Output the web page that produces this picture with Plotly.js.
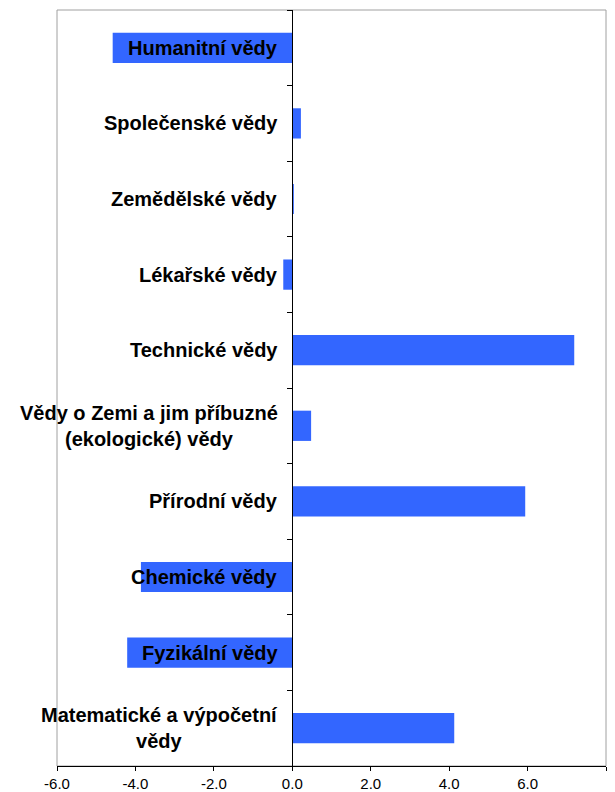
<!DOCTYPE html>
<html>
<head>
<meta charset="utf-8">
<script src="https://cdn.plot.ly/plotly-3.0.1.min.js"></script>
<style>
  body { margin: 0; background: #fff; }
  #chart { width: 615px; height: 792px; }
</style>
</head>
<body>
<div id="chart"></div>
<script>
// categories from top to bottom
const categories = [
    "Humanitní vědy",
    "Společenské vědy",
    "Zemědělské vědy",
    "Lékařské vědy",
    "Technické vědy",
    "Vědy o Zemi a jim příbuzné<br>(ekologické) vědy",
    "Přírodní vědy",
    "Chemické vědy",
    "Fyzikální vědy",
    "Matematické a výpočetní<br>vědy"
];
const values = [-4.58, 0.22, 0.04, -0.23, 7.19, 0.48, 5.94, -3.86, -4.21, 4.13];

const xMin = -6;
const xMax = 8;
const xTicks = [-6, -4, -2, 0, 2, 4, 6, 8];
const xTickLabels = ["-6.0", "-4.0", "-2.0", "0.0", "2.0", "4.0", "6.0", "8.0"];

function draw() {
    const trace = {
        type: 'bar',
        orientation: 'h',
        x: values,
        y: categories,
        marker: { color: '#3366FF', line: { width: 0 } },
        hoverinfo: 'x+y'
    };

    // category labels sit at the zero line, lines centred like the original
    const labels = categories.map(function(c) {
        return {
            x: 0, y: c, xref: 'x', yref: 'y',
            text: '<b>' + c.split('<br>').join('</b><br><b>') + '</b>',
            showarrow: false,
            xanchor: 'right',
            align: 'center',
            xshift: -12,
            font: { family: 'Liberation Sans, Arial, sans-serif', size: 20, color: '#000' }
        };
    });

    const layout = {
        width: 615,
        height: 792,
        margin: { l: 57, r: 9, t: 10, b: 26 },
        paper_bgcolor: '#fff',
        plot_bgcolor: '#fff',
        showlegend: false,
        bargap: 0.6,
        font: { family: 'Liberation Sans, Arial, sans-serif', color: '#000' },
        xaxis: {
            range: [xMin, xMax],
            tickmode: 'array',
            tickvals: xTicks,
            ticktext: xTickLabels,
            showgrid: false,
            zeroline: false,
            showline: true,
            linecolor: '#000',
            linewidth: 1,
            ticks: 'outside',
            ticklen: 4,
            tickcolor: '#000',
            tickfont: { size: 15, color: '#000' }
        },
        yaxis: {
            autorange: 'reversed',
            anchor: 'free',
            position: (0 - xMin) / (xMax - xMin),
            showticklabels: false,
            showgrid: false,
            zeroline: false,
            showline: true,
            linecolor: '#000',
            linewidth: 1,
            ticks: 'outside',
            tickson: 'boundaries',
            ticklen: 5,
            tickcolor: '#000'
        },
        annotations: labels,
        shapes: [{
            type: 'rect', xref: 'paper', yref: 'paper',
            x0: 0, x1: 1, y0: 0, y1: 1,
            line: { color: '#a0a0a0', width: 1 },
            layer: 'below'
        }]
    };

    Plotly.newPlot('chart', [trace], layout, { displayModeBar: false, staticPlot: true });
}

window.onload = draw;
</script>
</body>
</html>
